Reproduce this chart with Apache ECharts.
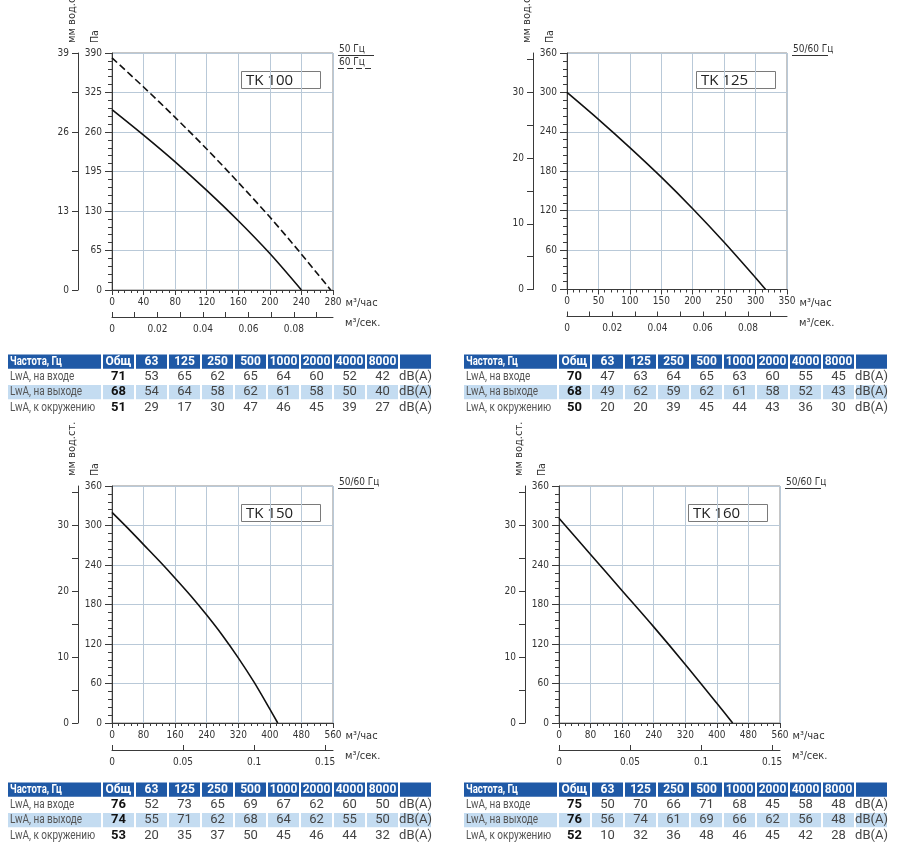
<!DOCTYPE html>
<html><head><meta charset="utf-8">
<script src="https://cdn.jsdelivr.net/npm/echarts@6/dist/echarts.min.js"></script>
<style>html,body{margin:0;padding:0;background:#fff}#c{width:900px;height:852px}</style>
</head><body><div id="c"></div>
<script>
// ---------- DATA ----------
const tk100Flow50 = [0, 40, 80, 120, 160, 200, 240];
const tk100Pa50   = [297, 255, 211, 164, 114, 60, 0];
const tk100Flow60 = [0, 40, 80, 120, 160, 200, 240, 277];
const tk100Pa60   = [382, 334, 284, 232, 177, 120, 59, 0];
const tk125Flow = [0, 50, 100, 150, 200, 250, 300, 316];
const tk125Pa   = [300, 259, 216, 171, 123, 72, 18, 0];
const tk150Flow = [0, 40, 80, 120, 160, 200, 240, 280, 320, 360, 400, 420];
const tk150Pa   = [320, 296, 271, 246, 220, 193, 164, 133, 99, 62, 21, 0];
const tk160Flow = [0, 80, 160, 240, 320, 400, 440];
const tk160Pa   = [311, 256, 201, 146, 89, 30, 0];

// tick values for the secondary axes
const mmTicks100  = [0, 6.5, 13, 19.5, 26, 32.5, 39];
const mmLabels100 = [0, 13, 26, 39];
const mmTicksStd  = [0, 5, 10, 15, 20, 25, 30, 35];
const mmLabelsStd = [0, 10, 20, 30];
const secTicksSmall  = [0, 0.01, 0.02, 0.03, 0.04, 0.05, 0.06, 0.07, 0.08, 0.09];
const secLabelsSmall = [0, 0.02, 0.04, 0.06, 0.08];
const secTicksBig  = [0, 0.05, 0.1, 0.15];
const secLabelsBig = [0, 0.05, 0.1, 0.15];

// tables
const freqHeader = ['Частота, Гц', 'Общ', '63', '125', '250', '500', '1000', '2000', '4000', '8000', ''];
const rowLabels = ['LwA, на входе', 'LwA, на выходе', 'LwA, к окружению'];
const unitLabel = 'dB(A)';
const tk100In  = [71, 53, 65, 62, 65, 64, 60, 52, 42];
const tk100Out = [68, 54, 64, 58, 62, 61, 58, 50, 40];
const tk100Env = [51, 29, 17, 30, 47, 46, 45, 39, 27];
const tk125In  = [70, 47, 63, 64, 65, 63, 60, 55, 45];
const tk125Out = [68, 49, 62, 59, 62, 61, 58, 52, 43];
const tk125Env = [50, 20, 20, 39, 45, 44, 43, 36, 30];
const tk150In  = [76, 52, 73, 65, 69, 67, 62, 60, 50];
const tk150Out = [74, 55, 71, 62, 68, 64, 62, 55, 50];
const tk150Env = [53, 20, 35, 37, 50, 45, 46, 44, 32];
const tk160In  = [75, 50, 70, 66, 71, 68, 45, 58, 48];
const tk160Out = [76, 56, 74, 61, 69, 66, 62, 56, 48];
const tk160Env = [52, 10, 32, 36, 48, 46, 45, 42, 28];

// ---------- LAYOUT / STYLE ----------
const F = '"Liberation Sans Narrow","Arial Narrow","DejaVu Sans Condensed",Roboto,sans-serif';
const TF = 'Roboto,"Open Sans",sans-serif';
const AX = '#3a3a3a', TXT = '#333', GRIDC = '#b9c9d8';
const zip = (a, b) => a.map((v, i) => [v, b[i]]);

const panels = [
  {title: 'TK 100', left: 112, top: 53, width: 221, height: 237, xMax: 280, xInt: 40, yMax: 390, yInt: 65,
   mmMax: 39, mmTicks: mmTicks100, mmLabels: mmLabels100, secMax: 350 / 3600, secTicks: secTicksSmall, secLabels: secLabelsSmall,
   legend: [['50 Гц', 'solid'], ['60 Гц', 'dashed']],
   lines: [{d: zip(tk100Flow50, tk100Pa50), dash: false}, {d: zip(tk100Flow60, tk100Pa60), dash: true}]},
  {title: 'TK 125', left: 567, top: 53, width: 220, height: 236.5, xMax: 350, xInt: 50, yMax: 360, yInt: 60,
   mmMax: 36, mmTicks: mmTicksStd, mmLabels: mmLabelsStd, secMax: 350 / 3600, secTicks: secTicksSmall, secLabels: secLabelsSmall,
   legend: [['50/60 Гц', 'solid']],
   lines: [{d: zip(tk125Flow, tk125Pa), dash: false}]},
  {title: 'TK 150', left: 112, top: 486, width: 221, height: 237, xMax: 560, xInt: 80, yMax: 360, yInt: 60,
   mmMax: 36, mmTicks: mmTicksStd, mmLabels: mmLabelsStd, secMax: 560 / 3600, secTicks: secTicksBig, secLabels: secLabelsBig,
   legend: [['50/60 Гц', 'solid']],
   lines: [{d: zip(tk150Flow, tk150Pa), dash: false}]},
  {title: 'TK 160', left: 559, top: 486, width: 221, height: 237, xMax: 560, xInt: 80, yMax: 360, yInt: 60,
   mmMax: 36, mmTicks: mmTicksStd, mmLabels: mmLabelsStd, secMax: 560 / 3600, secTicks: secTicksBig, secLabels: secLabelsBig,
   legend: [['50/60 Гц', 'solid']],
   lines: [{d: zip(tk160Flow, tk160Pa), dash: false}]}
];

const tables = [
  {left: 7, top: 354, rows: [tk100In, tk100Out, tk100Env]},
  {left: 463, top: 354, rows: [tk125In, tk125Out, tk125Env]},
  {left: 7, top: 782, rows: [tk150In, tk150Out, tk150Env]},
  {left: 463, top: 782, rows: [tk160In, tk160Out, tk160Env]}
];
const colW = [95, 33, 33, 33, 33, 33, 33, 33, 33, 33, 33];
const colStart = colW.map((w, i) => colW.slice(0, i).reduce((s, x) => s + x, 0));
const tableW = colW.reduce((s, x) => s + x, 0);
const HEAD_BG = '#1f59a6', ROW_BG = '#c4dcf1';

const grid = [], xAxis = [], yAxis = [], series = [], graphic = [];
const lbl = (extra) => Object.assign({fontSize: 10, color: TXT, fontFamily: F}, extra || {});

panels.forEach((p, i) => {
  grid.push({left: p.left, top: p.top, width: p.width, height: p.height, show: true,
             borderColor: '#8c8c8c', borderWidth: 1, backgroundColor: 'transparent'});
  xAxis.push({gridIndex: i, type: 'value', min: 0, max: p.xMax, interval: p.xInt, position: 'bottom',
    axisLine: {show: true, onZero: false, lineStyle: {color: AX}},
    axisTick: {show: true, length: 5, lineStyle: {color: AX}},
    minorTick: {show: true, splitNumber: 5, length: 3, lineStyle: {color: AX}},
    splitLine: {show: true, lineStyle: {color: GRIDC, width: 1}},
    axisLabel: lbl({margin: 7}),
    name: 'м³/час', nameLocation: 'end', nameGap: 12,
    nameTextStyle: {fontSize: 11, color: TXT, fontFamily: F, align: 'left', verticalAlign: 'top', padding: [8, 0, 0, 0]}});
  xAxis.push({gridIndex: i, type: 'value', min: 0, max: p.secMax, position: 'bottom', offset: 27,
    axisLine: {show: true, onZero: false, lineStyle: {color: AX}},
    axisTick: {show: true, inside: true, length: 5, customValues: p.secTicks, lineStyle: {color: AX}},
    axisLabel: lbl({margin: 7, customValues: p.secLabels, formatter: v => String(+(+v).toFixed(3))}),
    splitLine: {show: false}, minorTick: {show: false},
    name: 'м³/сек.', nameLocation: 'end', nameGap: 12,
    nameTextStyle: {fontSize: 11, color: TXT, fontFamily: F, align: 'left', verticalAlign: 'top', padding: [1, 0, 0, 0]}});
  yAxis.push({gridIndex: i, type: 'value', min: 0, max: p.yMax, interval: p.yInt, position: 'left',
    axisLine: {show: true, onZero: false, lineStyle: {color: AX}},
    axisTick: {show: true, length: 7, lineStyle: {color: AX}},
    minorTick: {show: true, splitNumber: 5, length: 4, lineStyle: {color: AX}},
    splitLine: {show: true, lineStyle: {color: GRIDC, width: 1}},
    axisLabel: lbl({margin: 10})});
  yAxis.push({gridIndex: i, type: 'value', min: 0, max: p.mmMax, position: 'left', offset: 34,
    axisLine: {show: true, onZero: false, lineStyle: {color: AX}},
    axisTick: {show: true, length: 6, customValues: p.mmTicks, lineStyle: {color: AX}},
    axisLabel: lbl({margin: 9, customValues: p.mmLabels}),
    splitLine: {show: false}, minorTick: {show: false}});
  p.lines.forEach(l => series.push({type: 'line', xAxisIndex: 2 * i, yAxisIndex: 2 * i, data: l.d,
    showSymbol: false, smooth: 0.3, silent: true,
    lineStyle: {color: '#111', width: 1.6, type: l.dash ? [7, 3.5] : 'solid'}}));

  // axis titles, model box, legend
  graphic.push({type: 'text', x: p.left - 17, y: p.top - 10, rotation: Math.PI / 2,
    style: {text: 'Па', fontSize: 10.5, fontFamily: F, fill: TXT, align: 'left', verticalAlign: 'middle'}});
  graphic.push({type: 'text', x: p.left - 40, y: p.top - 10, rotation: Math.PI / 2,
    style: {text: 'мм вод.ст.', fontSize: 11, fontFamily: F, fill: TXT, align: 'left', verticalAlign: 'middle'}});
  graphic.push({type: 'rect', shape: {x: p.left + 129.5, y: p.top + 18.5, width: 79, height: 17},
    style: {fill: '#fff', stroke: '#7a7a7a', lineWidth: 1}});
  graphic.push({type: 'text', x: p.left + 134, y: p.top + 27.5,
    style: {text: p.title, fontSize: 15, fontFamily: '"Open Sans",sans-serif', fill: '#222', verticalAlign: 'middle'}});
  const r = p.left + p.width;
  p.legend.forEach((lg, k) => {
    const ty = p.top - 4 + k * 13;
    graphic.push({type: 'text', x: r + 6, y: ty,
      style: {text: lg[0], fontSize: 10, fontFamily: F, fill: TXT, align: 'left', verticalAlign: 'middle'}});
    graphic.push({type: 'line', shape: {x1: r + 5, y1: ty + 6.5, x2: r + 41, y2: ty + 6.5},
      style: {stroke: '#333', lineWidth: 1.2, lineDash: lg[1] === 'dashed' ? [6, 3] : null}});
  });
});

// tables as custom series on hidden axes
tables.forEach((t, k) => {
  const gi = panels.length + k;
  grid.push({left: t.left, top: t.top, width: tableW, height: 61, show: false});
  xAxis.push({gridIndex: gi, type: 'value', min: 0, max: tableW, show: false});
  yAxis.push({gridIndex: gi, type: 'value', min: 0, max: 4, inverse: true, show: false});
  const cells = [];
  freqHeader.forEach((h, c) => cells.push({c, r: 0, text: h, kind: 'head'}));
  t.rows.forEach((vals, ri) => {
    cells.push({c: 0, r: ri + 1, text: rowLabels[ri], kind: 'label'});
    vals.forEach((v, j) => cells.push({c: j + 1, r: ri + 1, text: String(v), kind: j === 0 ? 'total' : 'val'}));
    cells.push({c: colW.length - 1, r: ri + 1, text: unitLabel, kind: 'val'});
  });
  series.push({type: 'custom', xAxisIndex: xAxis.length - 1, yAxisIndex: yAxis.length - 1, silent: true,
    data: cells.map(d => [colStart[d.c], d.r]),
    renderItem: (params, api) => {
      const d = cells[params.dataIndex];
      const p0 = api.coord([colStart[d.c], d.r]);
      const p1 = api.coord([colStart[d.c] + colW[d.c], d.r + 1]);
      const children = [];
      const bg = d.r === 0 ? HEAD_BG : (d.r === 2 ? ROW_BG : null);
      if (bg) children.push({type: 'rect', shape: {x: p0[0] + 1, y: p0[1] + 0.5, width: p1[0] - p0[0] - 2, height: p1[1] - p0[1] - 1},
        style: {fill: bg}});
      const left = d.c === 0;
      const isHead = d.kind === 'head';
      children.push({type: 'text',
        x: left ? p0[0] + 3 : (p0[0] + p1[0]) / 2, y: (p0[1] + p1[1]) / 2,
        scaleX: left ? 0.8 : 1,
        style: {
        text: d.text, x: 0, y: 0,
        align: left ? 'left' : 'center', verticalAlign: 'middle',
        fontFamily: TF,
        fontSize: isHead ? 12 : (left ? 12.5 : 13),
        fontWeight: (isHead || d.kind === 'total') ? 'bold' : 'normal',
        fill: isHead ? '#fff' : (d.kind === 'total' ? '#111' : (left ? '#555' : '#444'))}});
      return {type: 'group', children};
    }});
});

const chart = echarts.init(document.getElementById('c'), null, {renderer: 'canvas'});
chart.setOption({backgroundColor: '#fff', animation: false, grid, xAxis, yAxis, series, graphic});
</script></body></html>
